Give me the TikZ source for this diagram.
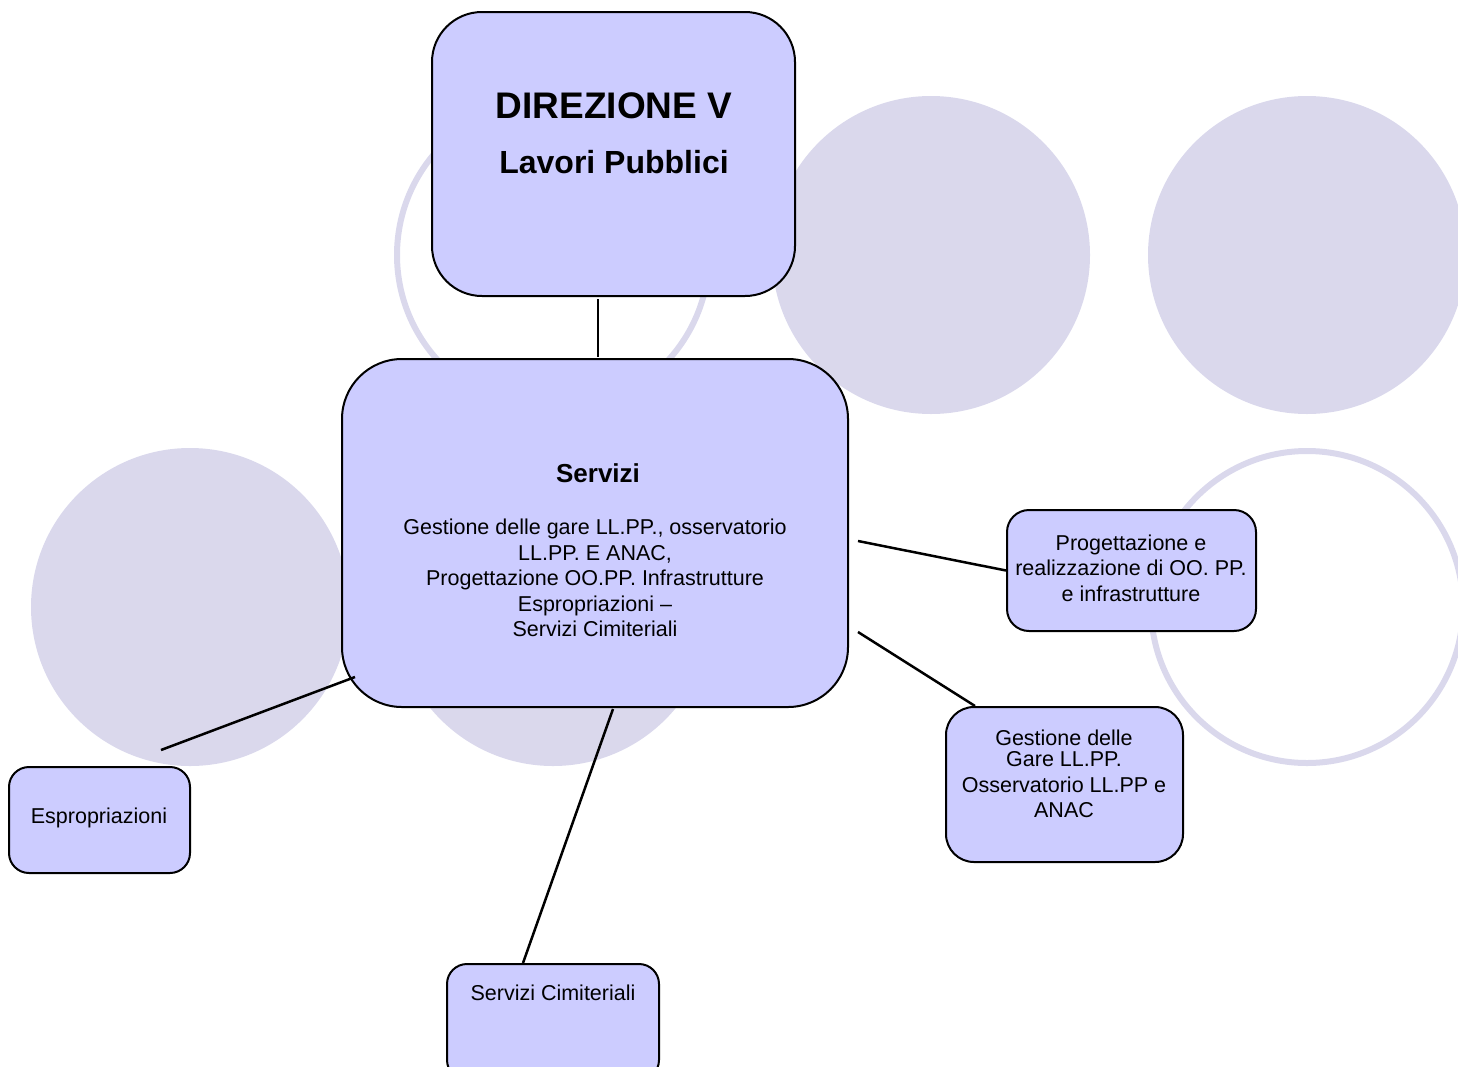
\documentclass[tikz,border=0pt]{standalone}
\usepackage{fontspec}
\setmainfont{Liberation Sans}
\usetikzlibrary{calc}
\definecolor{boxfill}{RGB}{204,204,255}
\definecolor{circ}{RGB}{218,216,236}
\begin{document}
\begin{tikzpicture}[x=1pt,y=-1pt,
  box/.style={draw=black,line width=2pt,fill=boxfill,rectangle,inner sep=0pt},
  bg/.style={fill=circ},
  ring/.style={draw=circ,line width=6pt},
  link/.style={line width=2.5pt},
  txt/.style={align=center,font=\fontsize{21.5}{25.5}\selectfont,inner sep=0pt}]
\useasboundingbox (0,0) rectangle (1458,1066);
\clip (0,0) rectangle (1458,1066);
% background circles
\draw[ring] (553,255) circle (156pt);
\fill[bg] (931,255) circle (159pt);
\fill[bg] (1307,255) circle (159pt);
\fill[bg] (190,607) circle (159pt);
\fill[bg] (553,607) circle (159pt);
\draw[ring] (1307,607) circle (156pt);
% boxes
\node[box, minimum width=363pt, minimum height=284pt, rounded corners=50pt] (dir) at (613.5,154) {};
\node[box, minimum width=506pt, minimum height=348pt, rounded corners=60pt] (serv) at (595,533) {};
\node[box, minimum width=249pt, minimum height=121pt, rounded corners=22pt] (prog) at (1131.5,570.5) {};
\node[box, minimum width=237pt, minimum height=155pt, rounded corners=28pt] (gest) at (1064.5,784.5) {};
\node[box, minimum width=181pt, minimum height=106pt, rounded corners=20pt] (esp) at (99.5,820) {};
\node[box, minimum width=212pt, minimum height=116pt, rounded corners=20pt] (cim) at (553,1022) {};
% texts
\node[txt, font=\bfseries\fontsize{37}{40}\selectfont] (dirt1) at (614,106) {DIREZIONE V};
\node[txt, font=\bfseries\fontsize{32}{36}\selectfont] (dirt2) at (614,162) {Lavori Pubblici};
\node[txt, font=\bfseries\fontsize{26}{30}\selectfont] (servt) at (598,473) {Servizi};
\node[txt] (servb) at (595,578) {Gestione delle gare LL.PP., osservatorio\\LL.PP. E ANAC,\\Progettazione OO.PP. Infrastrutture\\Espropriazioni --\\Servizi Cimiteriali};
\node[txt] (progt) at (1131,568) {Progettazione e\\realizzazione di OO. PP.\\e infrastrutture};
\node[txt] (gestt) at (1064,774) {Gestione delle\\[-4.5pt]Gare LL.PP.\\Osservatorio LL.PP e\\ANAC};
\node[txt] (espt) at (99,818) {Espropriazioni};
\node[txt] (cimt) at (553,993) {Servizi Cimiteriali};
% connectors
\draw[link] ($(dir.south)+(-15.5,2)$) -- ($(serv.north)+(3,-1)$);
\draw[link] ($(serv.east)+(9,8)$) -- (prog.west);
\draw[link] ($(serv.east)+(9,99)$) -- ($(gest.north)+(-89.5,0)$);
\draw[link] ($(serv.west)+(14,144)$) -- ($(esp.north)+(61.5,-16)$);
\draw[link] ($(serv.south)+(18,1)$) -- ($(cim.north)+(-30,0)$);
\end{tikzpicture}
\end{document}
